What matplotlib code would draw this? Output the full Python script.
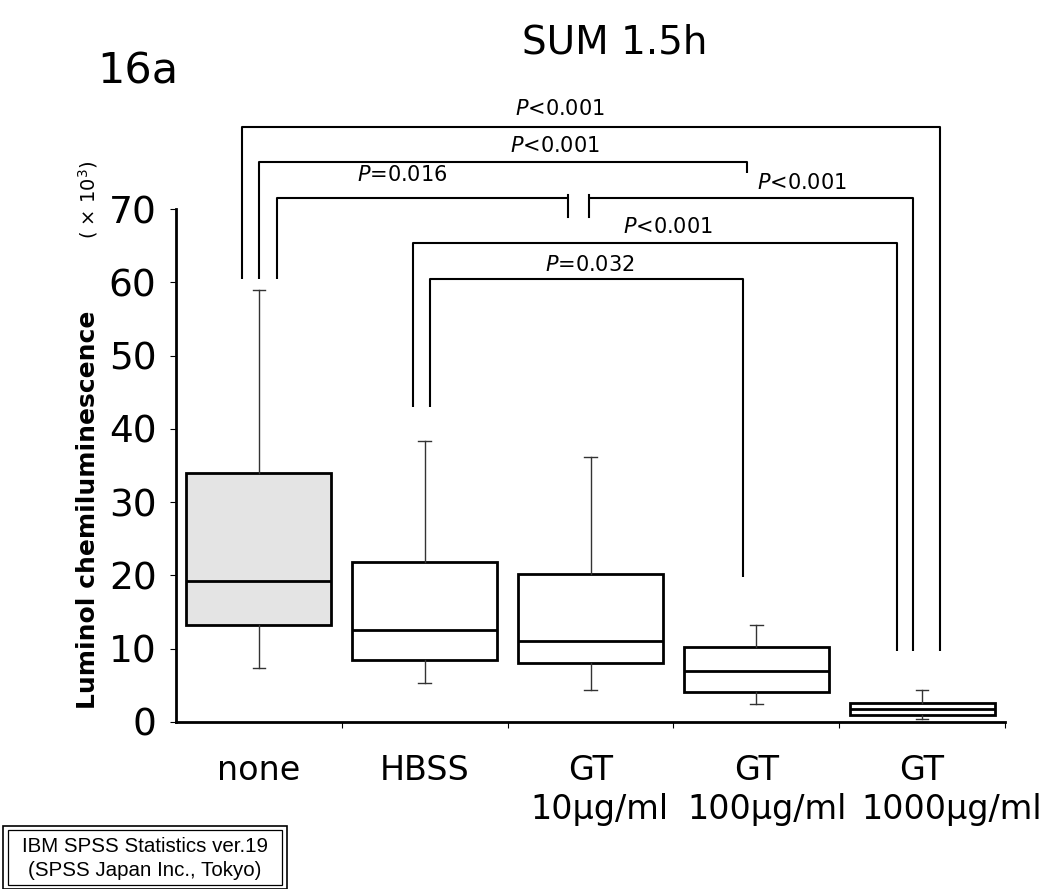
import matplotlib
matplotlib.use("Agg")
import matplotlib.pyplot as plt
from matplotlib.patches import Rectangle
from matplotlib.ticker import FixedLocator

# Group labels and five-number summaries (x 10^3)
groups = ["none", "HBSS", "GT", "GT", "GT"]
doses = ["", "", "10\u03bcg/ml", "100\u03bcg/ml", "1000\u03bcg/ml"]
whisker_low = [7.4, 5.3, 4.4, 2.5, 0.4]
q1 = [13.3, 8.4, 8.1, 4.1, 1.0]
median = [19.3, 12.6, 11.0, 6.9, 1.8]
q3 = [34.0, 21.8, 20.2, 10.3, 2.6]
whisker_high = [59.0, 38.4, 36.2, 13.3, 4.3]

# Pairwise comparison labels
p_labels = ["$P$<0.001", "$P$<0.001", "$P$=0.016", "$P$<0.001", "$P$<0.001", "$P$=0.032"]

W, H, DPI = 1048, 889, 100
fig = plt.figure(figsize=(W / DPI, H / DPI), dpi=DPI)
plt.rcParams["font.family"] = ["DejaVu Sans"]

def px(x, y):
    return x / W, 1 - y / H

ax = fig.add_axes([176 / W, 1 - 722 / H, (1005 - 176) / W, (722 - 209) / H])
unit_px = (1005 - 176) / len(groups)

stats = []
for i in range(len(groups)):
    stats.append(dict(whislo=whisker_low[i], q1=q1[i], med=median[i],
                      q3=q3[i], whishi=whisker_high[i], fliers=[]))

positions = list(range(len(groups)))
bp = ax.bxp(stats, positions=positions, widths=0.875, patch_artist=True,
            showfliers=False,
            boxprops=dict(linewidth=2.0, edgecolor="black", facecolor="white"),
            medianprops=dict(linewidth=2.0, color="black"),
            whiskerprops=dict(linewidth=1.0, color="#333333"),
            capprops=dict(linewidth=1.0, color="#333333"),
            capwidths=0.075)
bp["boxes"][0].set_facecolor("#e4e4e4")

ax.set_xlim(-0.5, len(groups) - 0.5)
ax.set_ylim(0, 70)
ax.spines["top"].set_visible(False)
ax.spines["right"].set_visible(False)
ax.spines["left"].set_linewidth(2.0)
ax.spines["bottom"].set_linewidth(2.0)

ax.set_yticks([0, 10, 20, 30, 40, 50, 60, 70])
ax.tick_params(axis="y", labelsize=27, length=4, width=0.8, pad=10)
ax.set_xticks(positions)
ax.set_xticklabels(groups, fontsize=24)
ax.tick_params(axis="x", length=0, pad=23)
ax.xaxis.set_minor_locator(FixedLocator([0.5, 1.5, 2.5, 3.5, 4.5]))
ax.tick_params(axis="x", which="minor", length=4, width=0.8)

# second label line (dose), set slightly right of the group centre
dose_shift_px = [0, 0, 9, 11, 30]
for i, d in enumerate(doses):
    if d:
        ax.text(i + dose_shift_px[i] / unit_px, -(809 - 722) / (722 - 209), d,
                fontsize=24, ha="center", va="center",
                transform=ax.get_xaxis_transform(), clip_on=False)

# Significance brackets: polylines in data coordinates
brackets = [
    [(-0.10, 60.4), (-0.10, 81.2), (4.11, 81.2), (4.11, 9.7)],
    [(0.00, 60.4), (0.00, 76.4), (2.945, 76.4), (2.945, 74.9)],
    [(0.11, 60.4), (0.11, 71.5), (1.865, 71.5)],
    [(1.99, 71.5), (3.945, 71.5), (3.945, 9.7)],
    [(0.93, 43.0), (0.93, 65.3), (3.85, 65.3), (3.85, 9.7)],
    [(1.03, 43.0), (1.03, 60.4), (2.92, 60.4), (2.92, 19.8)],
]
for seg in brackets:
    xs = [p[0] for p in seg]
    ys = [p[1] for p in seg]
    ax.plot(xs, ys, color="black", lw=1.5, clip_on=False, solid_capstyle="butt")
# short ticks at the break of the P=0.016 bracket
for xb in (1.865, 1.99):
    ax.plot([xb, xb], [71.9, 68.9], color="black", lw=1.5, clip_on=False)

label_pos = [(1.816, 83.7), (1.786, 78.6), (0.863, 74.6),
             (3.276, 73.6), (2.467, 67.6), (1.997, 62.3)]
for (lx, ly), txt in zip(label_pos, p_labels):
    ax.text(lx, ly, txt, fontsize=15, ha="center", va="center", clip_on=False)

# Titles and axis label
fig.text(*px(615, 42), "SUM 1.5h", fontsize=28, ha="center", va="center")
fig.text(*px(97, 72), "16a", fontsize=31, ha="left", va="center")
fig.text(*px(88, 510), "Luminol chemiluminescence", fontsize=18, fontweight="bold",
         rotation=90, ha="center", va="center")
fig.text(*px(88, 200), "( \u00d7 $10^3$)", fontsize=14, rotation=90,
         ha="center", va="center")

# Software note box with a double border
fig.patches.append(Rectangle(px(3, 889), 284 / W, 63 / H, transform=fig.transFigure,
                             fill=False, edgecolor="black", lw=1.2))
fig.patches.append(Rectangle(px(8, 885), 274 / W, 55 / H, transform=fig.transFigure,
                             fill=False, edgecolor="black", lw=0.9))
fig.text(*px(145, 846), "IBM SPSS Statistics ver.19", fontsize=14.8,
         family="Liberation Sans", ha="center", va="center")
fig.text(*px(145, 870), "(SPSS Japan Inc., Tokyo)", fontsize=14.8,
         family="Liberation Sans", ha="center", va="center")

fig.savefig("out.png", dpi=DPI)
